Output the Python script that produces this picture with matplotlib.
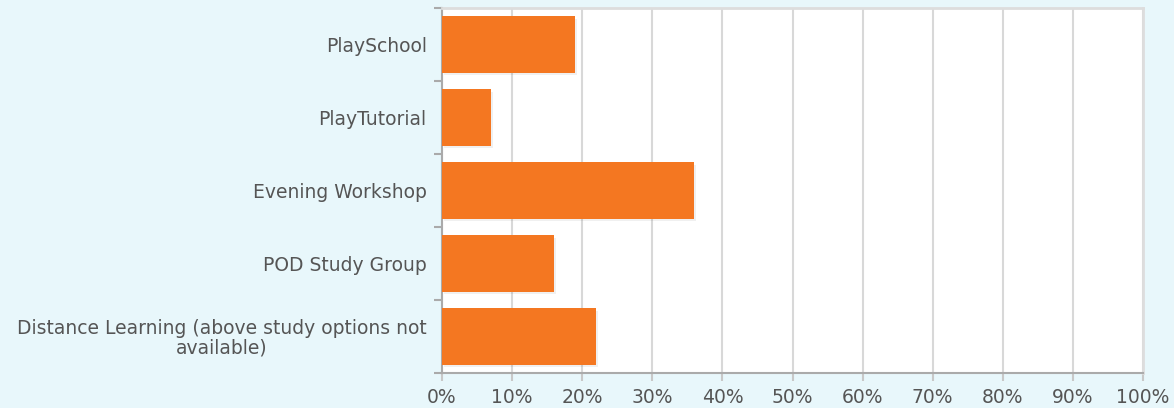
import matplotlib
matplotlib.use("Agg")
import matplotlib.pyplot as plt
import numpy as np
from matplotlib.ticker import FixedLocator, FuncFormatter

categories = ["PlaySchool", "PlayTutorial", "Evening Workshop", "POD Study Group",
              "Distance Learning (above study options not\navailable)"]
values = [19, 7, 36, 16, 22]
xticks = [0, 10, 20, 30, 40, 50, 60, 70, 80, 90, 100]

bg = "#E8F7FB"
bar_color = "#F47721"
text_color = "#555555"

plt.rcParams['font.family'] = ['DejaVu Sans']

fig = plt.figure(figsize=(11.74, 4.08), dpi=100, facecolor=bg)
ax = fig.add_axes([442/1174, 1-373/408, (1143-442)/1174, (373-8)/408])
ax.set_facecolor("white")

y = np.arange(len(categories))
# shadow
ax.barh(y + 0.03, values, height=0.77, left=0.25, color="#000000", alpha=0.06, zorder=2)
ax.barh(y, values, height=0.77, color=bar_color, zorder=3)

ax.set_xlim(0, 100)
ax.set_ylim(len(categories) - 0.5, -0.5)
ax.set_xticks(xticks)
ax.xaxis.set_major_formatter(FuncFormatter(lambda v, p: f"{int(v)}%"))
ax.grid(axis='x', color="#d8d8d8", linewidth=1.5, zorder=0)
ax.set_axisbelow(True)

ax.set_yticks(y)
ax.set_yticklabels(categories, ha='right', multialignment='center', linespacing=1.0)
ax.yaxis.set_minor_locator(FixedLocator(np.arange(-0.5, len(categories), 1.0)))
ax.tick_params(axis='y', which='major', length=0, pad=11, labelsize=13.5, labelcolor=text_color)
ax.tick_params(axis='y', which='minor', length=6, width=1.5, color="#aaaaaa")
ax.tick_params(axis='x', which='major', length=6, width=1.5, color="#c8c8c8", pad=5,
               labelsize=13.5, labelcolor=text_color)

for s in ['left', 'bottom']:
    ax.spines[s].set_color("#aaaaaa")
    ax.spines[s].set_linewidth(1.5)
for s in ['top', 'right']:
    ax.spines[s].set_color("#dddddd")
    ax.spines[s].set_linewidth(2)

fig.savefig("out.png", dpi=100, facecolor=bg)
